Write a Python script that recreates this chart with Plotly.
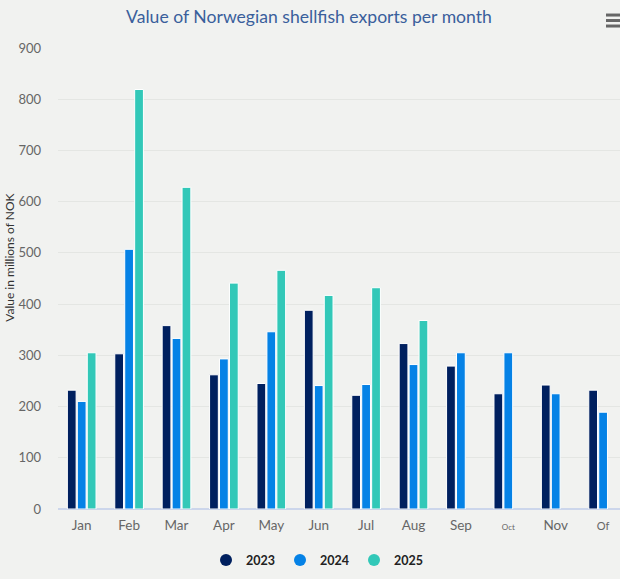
import plotly.graph_objects as go

months = ["Jan", "Feb", "Mar", "Apr", "May", "Jun", "Jul", "Aug", "Sep", "Oct", "Nov", "Of"]
tick_labels = ["Jan", "Feb", "Mar", "Apr", "May", "Jun", "Jul", "Aug", "Sep",
               '<span style="font-size:8px">Oct</span>', "Nov",
               '<span style="font-size:11px">Of</span>']
v2023 = [232, 303, 358, 262, 245, 388, 222, 323, 279, 225, 242, 232]
v2024 = [210, 507, 333, 293, 346, 241, 243, 282, 305, 305, 225, 189]
v2025 = [305, 819, 628, 441, 466, 417, 432, 368, None, None, None, None]
y_ticks = [0, 100, 200, 300, 400, 500, 600, 700, 800, 900]

series = [("2023", v2023, "#00205f"), ("2024", v2024, "#0582e6"), ("2025", v2025, "#32c8b8")]

W, H = 620, 579
L, T, B = 58, 48, 69.5
plot_h = H - T - B

fig = go.Figure()
for name, vals, col in series:
    fig.add_trace(go.Bar(
        x=months, y=vals, name=name, marker_color=col,
        marker_line_color="#ffffff", marker_line_width=1,
        showlegend=False, legendgroup=name,
    ))
for name, vals, col in series:
    fig.add_trace(go.Scatter(
        x=[None], y=[None], mode="markers", name=name, legendgroup=name,
        marker=dict(symbol="circle", size=13, color=col),
    ))

fig.update_layout(
    width=W, height=H, autosize=False,
    margin=dict(l=L, r=0, t=T, b=B, pad=0),
    paper_bgcolor="#f1f2f0", plot_bgcolor="#f1f2f0",
    font=dict(family="Lato, sans-serif", color="#666666", size=12),
    title=dict(text="Value of Norwegian shellfish exports per month",
               x=309 / W, xanchor="center", xref="container", y=1 - 17 / H, yanchor="middle",
               yref="container",
               font=dict(family="Lato, sans-serif", size=17.6, color="#3a5f9c")),
    barmode="group", bargap=0.37, bargroupgap=0.12,
    showlegend=True,
    legend=dict(orientation="h", x=(317 - L) / (W - L), xanchor="center",
                y=(T + plot_h - 561) / plot_h, yanchor="middle",
                font=dict(family="Lato, sans-serif", size=12.5, color="#222222", weight="bold"),
                itemsizing="constant", bgcolor="rgba(0,0,0,0)",
                traceorder="normal", itemwidth=30),
    xaxis=dict(
        type="category", range=[-0.5, (W - L) / 47.4 - 0.5],
        tickmode="array", tickvals=months, ticktext=tick_labels,
        showgrid=False, zeroline=False, showline=False, ticks="",
        tickfont=dict(size=13.5, color="#666666"), ticklabelstandoff=6,
        fixedrange=True,
    ),
    yaxis=dict(
        range=[0, 900], tickmode="array", tickvals=y_ticks,
        showgrid=True, gridcolor="#e4e6e3", gridwidth=1,
        zeroline=True, zerolinecolor="#ccd6eb", zerolinewidth=2,
        showline=False, ticks="", ticklabelstandoff=16,
        tickfont=dict(size=13, color="#666666"),
    ),
    annotations=[dict(
        text="Value in millions of NOK", textangle=-90,
        xref="paper", yref="paper",
        x=(10 - L) / (W - L), y=(T + plot_h - 258) / plot_h,
        xanchor="center", yanchor="middle", showarrow=False,
        font=dict(family="Lato, sans-serif", size=12, color="#333333"),
    )],
    shapes=[dict(type="line", xref="paper", yref="paper",
                 x0=(606 - L) / (W - L), x1=(621 - L) / (W - L),
                 y0=(T + plot_h - yy) / plot_h, y1=(T + plot_h - yy) / plot_h,
                 line=dict(color="#666666", width=3))
            for yy in (15, 20.5, 26)],
)

fig.write_html("out.html", config={"displayModeBar": False},
               post_script="document.body.style.margin='0';document.body.style.overflow='hidden';")
